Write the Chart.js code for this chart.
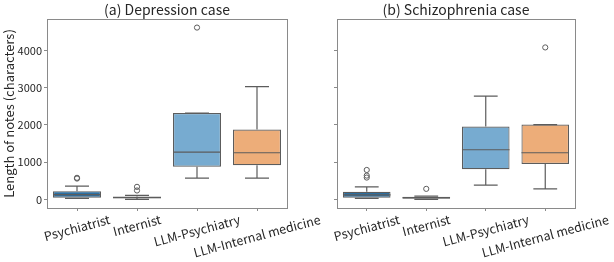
<!DOCTYPE html>
<html>
<head>
<meta charset="utf-8">
<script src="https://cdn.jsdelivr.net/npm/chart.js@4/dist/chart.umd.min.js"></script>
<style>
    html, body { margin: 0; padding: 0; background: #fff; }
    #wrap { position: relative; width: 614px; height: 262px; overflow: hidden; }
    .panel { position: absolute; top: 0; height: 262px; }
    #p1 { left: 0; width: 330px; }
    #p2 { left: 300px; width: 314px; }
</style>
</head>
<body>
<div id="wrap">
    <div class="panel" id="p1"><canvas id="c1"></canvas></div>
    <div class="panel" id="p2"><canvas id="c2"></canvas></div>
</div>
<script>
const categorias = ['Psychiatrist', 'Internist', 'LLM-Psychiatry', 'LLM-Internal medicine'];
const colores = ['#2d6e9f', '#8e5a2b', '#77abd0', '#edad79'];
const yTicks = [0, 1000, 2000, 3000, 4000];

// (a) Depression case
const depMin = [30, 0, 570, 570];
const depQ1 = [44, 30, 880, 916];
const depMed = [130, 50, 1270, 1253];
const depQ3 = [222, 80, 2320, 1876];
const depMax = [356, 110, 2320, 3030];
const depOut = [[560, 580], [240, 338], [4613], []];

// (b) Schizophrenia case
const schMin = [30, 0, 382, 284];
const schQ1 = [44, 18, 809, 951];
const schMed = [120, 45, 1333, 1253];
const schQ3 = [204, 72, 1956, 2009];
const schMax = [338, 90, 2773, 2009];
const schOut = [[587, 640, 791], [284], [], [4080]];

const FUENTE = "'Noto Sans CJK JP', 'Noto Sans', sans-serif";
const GRIS = '#5c5c5c'; const MARCO = '#8a8a8a'; const TEXTO = '#262626';
Chart.defaults.font.family = FUENTE;
Chart.defaults.color = TEXTO;

// bigotes, medianas y textos de cada panel
function hacerPlugin(d, titulo) {
    return {
        id: 'cajas',
        afterDatasetsDraw(chart) {
            let ctx = chart.ctx; let y = chart.scales.y;
            let meta = chart.getDatasetMeta(0);
            ctx.save(); ctx.strokeStyle = GRIS; ctx.lineWidth = 1.2;
            categorias.forEach((c, i) => {
                let bar = meta.data[i]; let cx = bar.x; let w = bar.width / 2;
                let pMin = y.getPixelForValue(d.min[i]), pMax = y.getPixelForValue(d.max[i]);
                let pQ1 = y.getPixelForValue(d.q1[i]), pQ3 = y.getPixelForValue(d.q3[i]);
                let pMed = y.getPixelForValue(d.med[i]);
                ctx.beginPath();
                ctx.moveTo(cx, pQ3); ctx.lineTo(cx, pMax);
                ctx.moveTo(cx, pQ1); ctx.lineTo(cx, pMin);
                ctx.moveTo(cx - w / 2, pMax); ctx.lineTo(cx + w / 2, pMax);
                ctx.moveTo(cx - w / 2, pMin); ctx.lineTo(cx + w / 2, pMin);
                ctx.moveTo(cx - w, pMed); ctx.lineTo(cx + w, pMed);
                ctx.stroke();
            });
            ctx.restore();
        },
        afterDraw(chart) {
            let ctx = chart.ctx; let a = chart.chartArea; let x = chart.scales.x;
            ctx.save();
            ctx.strokeStyle = MARCO; ctx.lineWidth = 1;
            ctx.strokeRect(Math.round(a.left) + 0.5, Math.round(a.top) + 0.5, Math.round(a.right - a.left), Math.round(a.bottom - a.top));
            ctx.fillStyle = TEXTO;
            ctx.font = '14px ' + FUENTE; ctx.textAlign = 'center'; ctx.textBaseline = 'middle';
            ctx.fillText(titulo, (a.left + a.right) / 2, 10);
            ctx.font = '12.5px ' + FUENTE;
            let ang = 15 * Math.PI / 180;
            categorias.forEach((lab, i) => {
                let cx = x.getPixelForTick(i);
                let wt = ctx.measureText(lab).width;
                let bh = wt * Math.sin(ang) + 12.5 * Math.cos(ang);
                let cy = a.bottom + 5 + bh / 2;
                ctx.save(); ctx.translate(cx, cy); ctx.rotate(-ang);
                ctx.fillText(lab, 0, 0); ctx.restore();
            });
            ctx.restore();
        }
    };
}

function crearPanel(idCanvas, d, titulo, conEtiquetas, anchoY, padDer) {
    let puntos = categorias.flatMap((c, i) => d.out[i].map(v => ({ x: c, y: v })));
    return new Chart(document.getElementById(idCanvas), {
        type: 'bar',
        data: {
            labels: categorias,
            datasets: [{
                data: categorias.map((c, i) => [d.q1[i], d.q3[i]]),
                backgroundColor: colores, borderColor: GRIS, borderWidth: 1.2, borderSkipped: false,
                barPercentage: 0.8, categoryPercentage: 1
            }, {
                type: 'line', data: puntos, showLine: false,
                pointRadius: 2.6, pointBorderWidth: 1, pointBorderColor: GRIS, pointBackgroundColor: 'rgba(0,0,0,0)'
            }]
        },
        options: {
            responsive: true, maintainAspectRatio: false, animation: false,
            layout: { padding: { top: 19, right: padDer, left: 0, bottom: 0 } },
            plugins: { legend: { display: false }, tooltip: { enabled: false } },
            scales: {
                x: {
                    offset: true,
                    grid: { display: true, drawOnChartArea: false, drawTicks: true, tickLength: 3, color: MARCO, offset: false },
                    border: { display: false },
                    ticks: { display: false },
                    afterFit: s => { s.height = 54; }
                },
                y: {
                    min: -230, max: 4843,
                    afterBuildTicks: s => { s.ticks = yTicks.map(v => ({ value: v })); },
                    grid: { display: true, drawOnChartArea: false, drawTicks: true, tickLength: 3, color: MARCO },
                    border: { display: false },
                    ticks: { display: conEtiquetas, padding: 2, font: { size: 11 }, color: TEXTO, callback: v => String(v) },
                    title: { display: conEtiquetas, text: 'Length of notes (characters)', font: { size: 13 }, color: TEXTO, padding: { top: 1, bottom: 0 } },
                    afterFit: s => { s.width = anchoY; }
                }
            }
        },
        plugins: [hacerPlugin(d, titulo)]
    });
}

crearPanel('c1', { min: depMin, q1: depQ1, med: depMed, q3: depQ3, max: depMax, out: depOut }, '(a) Depression case', true, 47, 43);
crearPanel('c2', { min: schMin, q1: schQ1, med: schMed, q3: schQ3, max: schMax, out: schOut }, '(b) Schizophrenia case', false, 37, 39);
</script>
</body>
</html>
